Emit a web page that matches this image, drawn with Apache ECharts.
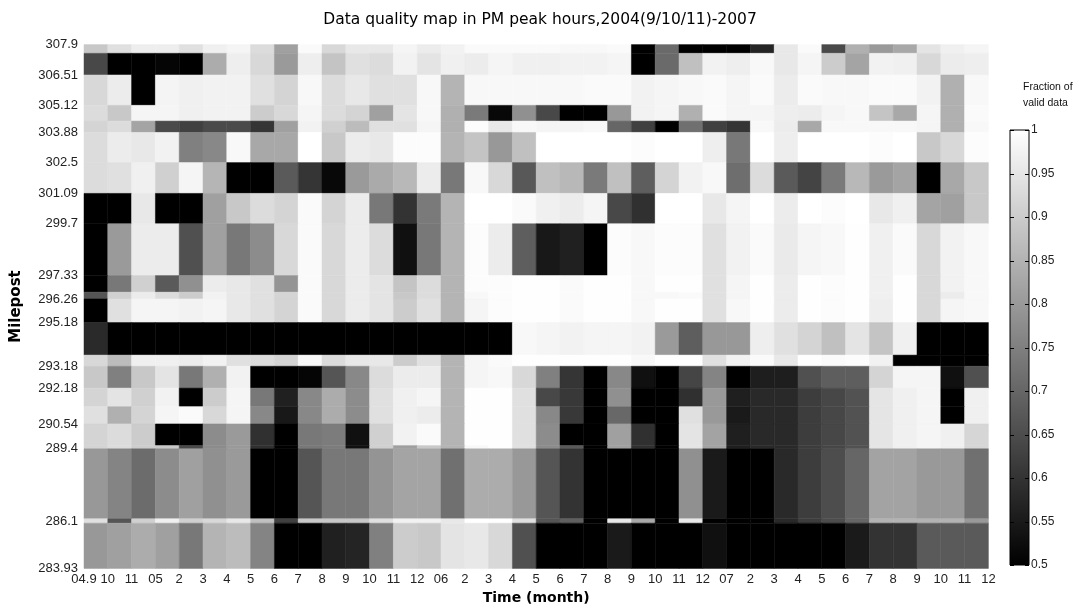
<!DOCTYPE html>
<html>
<head>
<meta charset="utf-8">
<script src="https://cdn.jsdelivr.net/npm/echarts@6/dist/echarts.min.js"></script>
<style>
  html, body { margin: 0; padding: 0; background: #ffffff; }
  #chart { width: 1073px; height: 616px; }
</style>
</head>
<body>
<div id="chart"></div>
<script>
// Month labels along the time axis (Sep 2004 .. Dec 2007)
const monthLabels = ['04.9', '10', '11',
  '05', '2', '3', '4', '5', '6', '7', '8', '9', '10', '11', '12',
  '06', '2', '3', '4', '5', '6', '7', '8', '9', '10', '11', '12',
  '07', '2', '3', '4', '5', '6', '7', '8', '9', '10', '11', '12'];

// Labelled detector mileposts
const mileTicks = [307.9, 306.51, 305.12, 303.88, 302.5, 301.09, 299.7, 297.33,
  296.26, 295.18, 293.18, 292.18, 290.54, 289.4, 286.1, 283.93];

// Colour-bar tick values
const barTicks = [0.5, 0.55, 0.6, 0.65, 0.7, 0.75, 0.8, 0.85, 0.9, 0.95, 1];

// Row boundaries (milepost), top to bottom
const rowEdges = [307.9, 307.5, 306.51, 305.12, 304.4, 303.88, 302.5, 301.09, 299.7,
  297.33, 296.57, 296.26, 295.18, 293.69, 293.18, 292.18, 291.33, 290.54, 289.55,
  289.4, 286.2, 286.0, 283.93];

// Fraction of valid data, one array per milepost segment, one value per month
const seg307_90 = [0.892,0.939,0.967,0.967,0.939,0.971,0.98,0.931,0.814,0.99,0.924,0.955,0.955, 0.98,0.963,0.975,0.99,0.99,0.99,0.99,0.986,0.986,0.99,0.5,0.708,0.5, 0.5,0.5,0.573,0.955,0.99,0.645,0.845,0.802,0.829,0.947,0.971,0.98];
const seg307_50 = [0.641,0.5,0.5,0.51,0.5,0.837,0.967,0.924,0.802,0.967,0.884,0.939,0.931, 0.975,0.947,0.971,0.963,0.98,0.971,0.971,0.975,0.975,0.98,0.5,0.708,0.876, 0.975,0.967,0.986,0.955,0.98,0.9,0.822,0.975,0.971,0.924,0.963,0.967];
const seg306_51 = [0.924,0.963,0.5,0.978,0.971,0.975,0.975,0.939,0.916,0.986,0.931,0.955,0.939, 0.939,0.986,0.853,0.986,0.986,0.986,0.986,0.986,0.99,0.99,0.975,0.98,0.986, 0.99,0.98,0.99,0.963,0.99,0.986,0.986,0.99,0.99,0.975,0.845,0.986];
const seg305_12 = [0.931,0.892,0.98,0.98,0.971,0.975,0.975,0.9,0.924,0.98,0.931,0.916,0.814, 0.947,0.986,0.845,0.739,0.516,0.782,0.641,0.5,0.5,0.798,0.975,0.98,0.845, 0.99,0.98,0.98,0.967,0.963,0.98,0.986,0.884,0.829,0.98,0.845,0.99];
const seg304_40 = [0.916,0.931,0.822,0.645,0.625,0.645,0.645,0.604,0.814,0.975,0.908,0.869,0.939, 0.939,0.98,0.845,0.994,0.955,0.986,0.98,0.98,0.986,0.70,0.625,0.5,0.72, 0.625,0.604,0.986,0.963,0.829,0.986,0.986,0.986,0.986,0.98,0.845,0.986];
const seg303_88 = [0.931,0.963,0.955,0.975,0.751,0.767,0.986,0.829,0.829,1,0.892,0.963,0.955, 0.994,0.994,0.853,0.884,0.798,0.876,1,1,1,1,0.994,1,1, 0.967,0.735,1,0.967,1,1,1,0.994,1,0.892,0.924,0.994];
const seg302_50 = [0.931,0.939,0.971,0.908,0.98,0.855,0.5,0.5,0.676,0.604,0.516,0.802,0.833, 0.861,0.963,0.735,0.986,0.924,0.673,0.876,0.861,0.739,0.876,0.684,0.916,0.975, 0.986,0.716,0.931,0.676,0.633,0.739,0.861,0.802,0.822,0.5,0.829,0.892];
const seg301_09 = [0.5,0.5,0.955,0.5,0.5,0.814,0.892,0.931,0.916,0.99,0.916,0.963,0.735, 0.60,0.739,0.853,1,1,0.99,0.971,0.963,0.98,0.641,0.594,1,1, 0.955,0.98,1,0.963,1,0.994,1,0.955,0.971,0.822,0.814,0.892];
const seg299_70 = [0.5,0.802,0.963,0.963,0.657,0.814,0.735,0.775,0.924,0.99,0.924,0.963,0.931, 0.531,0.735,0.853,0.994,0.963,0.684,0.547,0.563,0.5,0.994,0.986,0.994,0.994, 0.939,0.975,0.99,0.959,0.98,0.986,0.998,0.971,0.99,0.924,0.975,0.986];
const seg297_33 = [0.5,0.735,0.908,0.676,0.782,0.963,0.955,0.939,0.79,0.99,0.924,0.963,0.947, 0.884,0.931,0.853,0.994,0.994,0.998,0.998,0.99,0.998,0.998,0.986,0.998,0.998, 0.939,0.98,0.998,0.963,0.998,0.994,0.998,0.971,0.998,0.924,0.975,0.986];
const seg296_57 = [0.667,0.908,0.963,0.931,0.90,0.975,0.955,0.939,0.916,0.99,0.924,0.963,0.947, 0.892,0.931,0.853,0.986,0.994,0.998,0.998,0.99,0.998,0.998,0.986,0.986,0.99, 0.939,0.98,0.998,0.963,0.998,0.994,0.998,0.971,0.998,0.924,0.963,0.986];
const seg296_26 = [0.5,0.939,0.98,0.98,0.975,0.98,0.955,0.939,0.916,0.99,0.924,0.963,0.947, 0.90,0.939,0.853,0.98,0.994,0.998,0.998,0.99,0.998,0.998,0.986,0.998,0.998, 0.939,0.986,0.998,0.963,0.998,0.994,0.998,0.967,0.998,0.924,0.98,0.986];
const seg295_18 = [0.582,0.5,0.5,0.5,0.5,0.5,0.5,0.5,0.5,0.5,0.5,0.5,0.5, 0.5,0.5,0.5,0.5,0.5,0.986,0.98,0.975,0.98,0.98,0.975,0.802,0.684, 0.798,0.798,0.967,0.939,0.916,0.876,0.947,0.884,0.971,0.5,0.5,0.5];
const seg293_69 = [0.924,0.869,0.971,0.971,0.963,0.975,0.939,0.931,0.916,0.986,0.931,0.955,0.955, 0.90,0.939,0.853,0.98,0.99,0.998,0.998,0.998,0.998,0.998,0.986,0.998,0.998, 0.939,0.975,0.99,0.955,0.998,0.99,0.994,0.975,0.5,0.5,0.5,0.5];
const seg293_18 = [0.892,0.751,0.892,0.947,0.735,0.845,0.975,0.5,0.5,0.51,0.667,0.767,0.931, 0.963,0.963,0.853,0.98,0.986,0.924,0.751,0.604,0.5,0.767,0.531,0.5,0.635, 0.759,0.5,0.559,0.559,0.657,0.684,0.684,0.916,0.98,0.98,0.531,0.657];
const seg292_18 = [0.916,0.947,0.908,0.975,0.5,0.90,0.98,0.735,0.563,0.767,0.837,0.775,0.939, 0.971,0.98,0.853,0.998,0.998,0.939,0.641,0.61,0.5,0.782,0.5,0.5,0.594, 0.80,0.56,0.58,0.58,0.62,0.64,0.66,0.95,0.97,0.98,0.5,0.97];
const seg291_33 = [0.939,0.845,0.916,0.98,0.99,0.924,0.98,0.767,0.547,0.767,0.837,0.775,0.939, 0.971,0.963,0.853,0.998,0.998,0.939,0.767,0.61,0.5,0.704,0.5,0.5,0.939, 0.80,0.55,0.58,0.58,0.62,0.64,0.66,0.95,0.97,0.98,0.5,0.97];
const seg290_54 = [0.916,0.931,0.90,0.5,0.5,0.775,0.802,0.594,0.5,0.735,0.743,0.531,0.908, 0.975,0.99,0.853,0.998,0.998,0.939,0.775,0.5,0.5,0.814,0.594,0.5,0.947, 0.82,0.56,0.58,0.58,0.62,0.64,0.66,0.95,0.97,0.98,0.97,0.92];
const seg289_55 = [0.916,0.931,0.90,0.892,0.645,0.775,0.802,0.594,0.5,0.735,0.743,0.531,0.908, 0.814,0.892,0.853,0.986,0.998,0.939,0.775,0.676,0.5,0.814,0.594,0.5,0.947, 0.82,0.56,0.58,0.58,0.62,0.64,0.66,0.95,0.97,0.98,0.97,0.92];
const seg289_40 = [0.798,0.759,0.712,0.775,0.814,0.782,0.802,0.5,0.5,0.667,0.735,0.735,0.79, 0.822,0.822,0.72,0.837,0.837,0.798,0.667,0.60,0.5,0.5,0.5,0.5,0.782, 0.55,0.5,0.5,0.58,0.62,0.65,0.70,0.82,0.82,0.80,0.80,0.72];
const seg286_20 = [0.939,0.667,0.908,0.971,0.908,0.924,0.955,0.876,0.625,0.892,0.892,0.892,0.939, 0.975,0.975,0.955,1,1,0.939,0.667,0.688,0.5,0.955,0.829,0.5,0.955, 0.5,0.5,0.5,0.58,0.62,0.65,0.70,0.85,0.85,0.85,0.85,0.80];
const seg286_00 = [0.798,0.814,0.837,0.814,0.735,0.853,0.869,0.759,0.5,0.5,0.563,0.571,0.751, 0.90,0.892,0.947,0.955,0.924,0.657,0.5,0.5,0.5,0.551,0.5,0.5,0.5, 0.531,0.5,0.5,0.5,0.5,0.5,0.551,0.60,0.60,0.676,0.676,0.676];

const segments = [seg307_90, seg307_50, seg306_51, seg305_12, seg304_40, seg303_88,
  seg302_50, seg301_09, seg299_70, seg297_33, seg296_57, seg296_26, seg295_18,
  seg293_69, seg293_18, seg292_18, seg291_33, seg290_54, seg289_55, seg289_40,
  seg286_20, seg286_00];

// One cell per (month, segment): [monthIndex, upperMilepost, lowerMilepost, fraction]
const cells = [];
segments.forEach((row, i) => {
  row.forEach((v, j) => cells.push([j, rowEdges[i], rowEdges[i + 1], v]));
});

const FONT = '"Liberation Sans", Arial, Helvetica, sans-serif';
const WIDE = '"DejaVu Sans", Verdana, sans-serif';
const fmt2 = v => String(+Number(v).toFixed(2));

const chart = echarts.init(document.getElementById('chart'), null, { renderer: 'canvas' });

chart.setOption({
  animation: false,
  backgroundColor: '#ffffff',
  textStyle: { fontFamily: FONT },
  title: [
    {
      text: 'Data quality map in PM peak hours,2004(9/10/11)-2007',
      left: 535, top: 7, textAlign: 'center',
      textStyle: { fontFamily: WIDE, fontSize: 15.5, fontWeight: 'normal', color: '#000' }
    },
    {
      text: 'Fraction of\nvalid data',
      left: 1018, top: 74,
      textStyle: { fontFamily: FONT, fontSize: 10.5, fontWeight: 'normal', color: '#111', lineHeight: 16 }
    }
  ],
  grid: [
    { left: 84, top: 44.6, width: 904.4, height: 523.8 },
    { left: 1010, top: 130, width: 19, height: 435 }
  ],
  xAxis: [
    {
      type: 'value', gridIndex: 0, min: 0, max: 38, interval: 1,
      axisLine: { show: false }, axisTick: { show: false }, splitLine: { show: false },
      axisLabel: {
        formatter: v => monthLabels[Math.round(v)] || '',
        fontFamily: FONT, fontSize: 13, color: '#222', margin: 5,
        showMinLabel: true, showMaxLabel: true, hideOverlap: false
      },
      name: 'Time (month)', nameLocation: 'middle', nameGap: 22,
      nameTextStyle: { fontFamily: WIDE, fontSize: 14, fontWeight: 'bold', color: '#000' }
    },
    { type: 'value', gridIndex: 1, min: 0, max: 1, show: false }
  ],
  yAxis: [
    {
      type: 'value', gridIndex: 0, min: 283.93, max: 307.9,
      axisLine: { show: false }, axisTick: { show: false }, splitLine: { show: false },
      axisLabel: {
        customValues: mileTicks,
        formatter: v => String(v),
        fontFamily: FONT, fontSize: 13, color: '#222', margin: 6,
        showMinLabel: true, showMaxLabel: true, hideOverlap: false
      },
      name: 'Milepost', nameLocation: 'middle', nameGap: 60, nameRotate: 90,
      nameTextStyle: { fontFamily: WIDE, fontSize: 15, fontWeight: 'bold', color: '#000' }
    },
    {
      type: 'value', gridIndex: 1, min: 0.5, max: 1, interval: 0.05, position: 'right',
      axisLine: { show: false }, splitLine: { show: false }, axisTick: { show: false },
      axisLabel: { formatter: fmt2, fontFamily: FONT, fontSize: 12, color: '#222', margin: 2 }
    }
  ],
  visualMap: {
    type: 'continuous', show: false, min: 0.5, max: 1, dimension: 3, seriesIndex: 0,
    inRange: { color: ['#000000', '#ffffff'] }
  },
  series: [
    {
      type: 'custom', xAxisIndex: 0, yAxisIndex: 0,
      data: cells,
      encode: { x: 0, y: [1, 2] },
      renderItem: (params, api) => {
        const m = api.value(0);
        const a = api.coord([m, api.value(1)]);
        const b = api.coord([m + 1, api.value(2)]);
        const c = api.visual('color');
        return {
          type: 'rect',
          shape: { x: a[0], y: a[1], width: b[0] - a[0], height: b[1] - a[1] },
          style: { fill: c, stroke: c, lineWidth: 0.5 }
        };
      }
    },
    {
      // colour bar: gradient box with inward ticks on both edges
      type: 'custom', xAxisIndex: 1, yAxisIndex: 1,
      data: [[0, 1, 1, 0.5]],
      renderItem: (params, api) => {
        const a = api.coord([api.value(0), api.value(1)]);
        const b = api.coord([api.value(2), api.value(3)]);
        const children = [{
          type: 'rect',
          shape: { x: a[0], y: a[1], width: b[0] - a[0], height: b[1] - a[1] },
          style: {
            fill: new echarts.graphic.LinearGradient(0, 0, 0, 1, [
              { offset: 0, color: '#ffffff' }, { offset: 1, color: '#000000' }
            ]),
            stroke: '#000', lineWidth: 1
          }
        }];
        barTicks.forEach(t => {
          const y = Math.round(api.coord([0, t])[1]) + 0.5;
          children.push({ type: 'line', shape: { x1: a[0], y1: y, x2: a[0] + 4, y2: y }, style: { stroke: '#000', lineWidth: 1 } });
          children.push({ type: 'line', shape: { x1: b[0] - 4, y1: y, x2: b[0], y2: y }, style: { stroke: '#000', lineWidth: 1 } });
        });
        return { type: 'group', children };
      }
    }
  ]
});
</script>
</body>
</html>
